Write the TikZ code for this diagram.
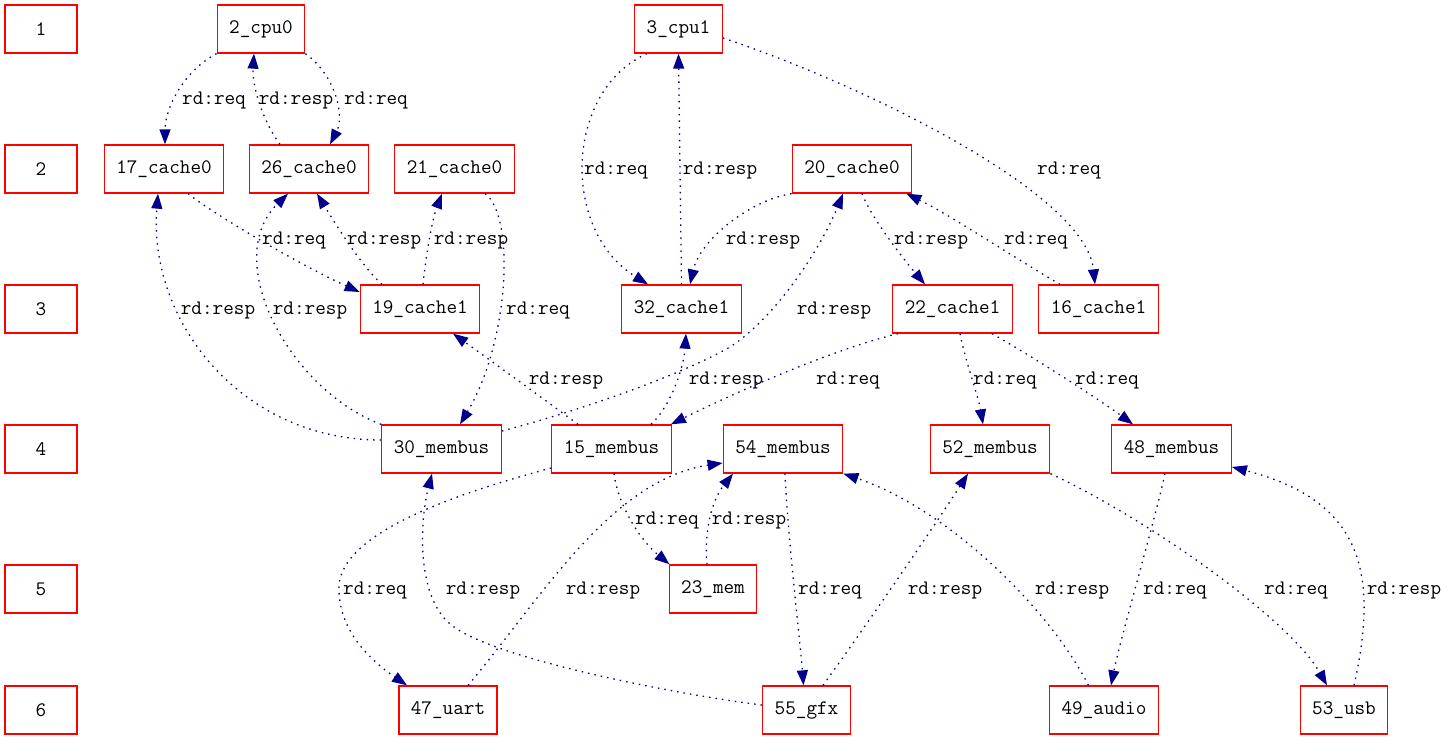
\documentclass[tikz,border=0pt]{standalone}
\usepackage{fontspec}
\usetikzlibrary{arrows.meta,calc}
\definecolor{edgeblue}{RGB}{0,0,139}
\begin{document}
\begin{tikzpicture}[x=1pt,y=-1pt,
  box/.style={draw=red, line width=1.3pt, minimum width=72pt, minimum height=48pt,
    inner xsep=12pt, inner ysep=0pt, font=\ttfamily\fontsize{20.6}{22}\selectfont},
  link/.style={draw=edgeblue, line width=1.3pt, dash pattern=on 1.5pt off 5pt,
    -{Triangle[length=15pt,width=11pt,fill=edgeblue]}},
  lbl/.style={font=\ttfamily\fontsize{20.6}{22}\selectfont, inner sep=0pt, text=black}]
\useasboundingbox (0,0) rectangle (1448,740);

% rank column
\node[box] (n1) at (41,29)  {1};
\node[box] (n2) at (41,169) {2};
\node[box] (n3) at (41,309) {3};
\node[box] (n4) at (41,449) {4};
\node[box] (n5) at (41,589) {5};
\node[box] (n6) at (41,710) {6};

% rank 1
\node[box] (cpu0) at (261,29)   {2\_cpu0};
\node[box] (cpu1) at (678.5,29) {3\_cpu1};
% rank 2
\node[box] (c17) at (164,169)   {17\_cache0};
\node[box] (c26) at (309,169)   {26\_cache0};
\node[box] (c21) at (454.5,169) {21\_cache0};
\node[box] (c20) at (852,169)   {20\_cache0};
% rank 3
\node[box] (c19) at (420,309)    {19\_cache1};
\node[box] (c32) at (681.5,309)  {32\_cache1};
\node[box] (c22) at (952.5,309)  {22\_cache1};
\node[box] (c16) at (1098.5,309) {16\_cache1};
% rank 4
\node[box] (m30) at (441.5,449)  {30\_membus};
\node[box] (m15) at (611.5,449)  {15\_membus};
\node[box] (m54) at (783,449)    {54\_membus};
\node[box] (m52) at (990,449)    {52\_membus};
\node[box] (m48) at (1171.5,449) {48\_membus};
% rank 5
\node[box] (mem) at (713,589) {23\_mem};
% rank 6
\node[box] (uart)  at (448,710)   {47\_uart};
\node[box] (gfx)   at (806.5,710) {55\_gfx};
\node[box] (audio) at (1104,710)  {49\_audio};
\node[box] (usb)   at (1344,710)  {53\_usb};

% read requests and responses
\draw[link] (cpu0.south west) .. controls (182,72) and (165,110) .. ($(c17.north)+(1,0)$);
\node[lbl] (l1) at (214,100) {rd:req};
\draw[link] ($(c26.north)+(-29,0)$) .. controls (262,120) and (252,85) .. ($(cpu0.south)+(-7,0)$);
\node[lbl] (l2) at (296,100) {rd:resp};
\draw[link] (cpu0.south east) .. controls (335,75) and (345,115) .. ($(c26.north)+(21,0)$);
\node[lbl] (l3) at (376,100) {rd:req};

\draw[link] ($(cpu1.south)+(-31.5,0)$) .. controls (565,90) and (560,230) .. ($(c32.north)+(-33.5,0)$);
\node[lbl] (l4) at (616,170) {rd:req};
\draw[link] (c32.north) -- (cpu1.south);
\node[lbl] (l5) at (720,170) {rd:resp};
\draw[link] ($(cpu1.east)+(0,9)$) .. controls (850,80) and (1085,190) .. ($(c16.north)+(-3.5,0)$);
\node[lbl] (l6) at (1069,170) {rd:req};

\draw[link] (c20.south west) .. controls (750,200) and (700,240) .. ($(c32.north)+(8.5,0)$);
\node[lbl] (l7) at (763,240) {rd:resp};
\draw[link] ($(m30.east)+(0,-18)$) .. controls (600,405) and (690,370) .. (730,347)
  .. controls (775,318) and (820,250) .. ($(c20.south)+(-9,0)$);
\node[lbl] (l8) at (834,310) {rd:resp};
\draw[link] ($(c20.south)+(10,0)$) .. controls (870,215) and (900,255) .. ($(c22.north)+(-27.5,0)$);
\node[lbl] (l9) at (931,240) {rd:resp};
\draw[link] ($(c16.north)+(-38.5,0)$) .. controls (1010,255) and (950,215) .. ($(c20.south east)+(-6,0)$);
\node[lbl] (l10) at (1036,240) {rd:req};

\draw[link] ($(c17.south)+(24,0)$) .. controls (215,215) and (300,265) .. ($(c19.west)+(0,-17)$);
\node[lbl] (l11) at (294,240) {rd:req};
\draw[link] ($(c19.north)+(-38,0)$) .. controls (360,265) and (330,215) .. ($(c26.south)+(8,0)$);
\node[lbl] (l12) at (384,240) {rd:resp};
\draw[link] ($(c19.north)+(3,0)$) .. controls (426,255) and (432,220) .. ($(c21.south)+(-12.5,0)$);
\node[lbl] (l13) at (471,240) {rd:resp};

\draw[link] ($(m30.west)+(0,-9)$) .. controls (240,440) and (148,320) .. ($(c17.south)+(-6,0)$);
\node[lbl] (l14) at (218,310) {rd:resp};
\draw[link] (m30.north west) .. controls (290,390) and (220,260) .. ($(c26.south)+(-21,0)$);
\node[lbl] (l15) at (310,310) {rd:resp};
\draw[link] ($(c21.south)+(30.5,0)$) .. controls (515,215) and (510,340) .. ($(m30.north)+(18.5,0)$);
\node[lbl] (l16) at (538,310) {rd:req};

\draw[link] ($(m15.north)+(-33.5,0)$) .. controls (545,400) and (490,360) .. ($(c19.south)+(33,0)$);
\node[lbl] (l17) at (566,380) {rd:resp};
\draw[link] ($(m15.north)+(39.5,0)$) .. controls (672,405) and (684,365) .. ($(c32.south)+(4.5,0)$);
\node[lbl] (l18) at (726,380) {rd:resp};
\draw[link] ($(c22.south)+(-54.5,0)$) .. controls (830,350) and (730,395) .. ($(m15.north east)+(-1,0)$);
\node[lbl] (l19) at (848,380) {rd:req};
\draw[link] ($(c22.south)+(7.5,0)$) .. controls (965,360) and (978,395) .. ($(m52.north)+(-7,0)$);
\node[lbl] (l20) at (1005,380) {rd:req};
\draw[link] ($(c22.south)+(39.5,0)$) .. controls (1030,355) and (1100,400) .. ($(m48.north)+(-38.5,0)$);
\node[lbl] (l21) at (1107,380) {rd:req};

\draw[link] ($(m15.west)+(0,19)$) .. controls (470,490) and (340,530) .. (339,587)
  .. controls (338,630) and (370,660) .. ($(uart.north)+(-41,0)$);
\node[lbl] (l22) at (375,590) {rd:req};
\draw[link] ($(gfx.west)+(0,-5)$) .. controls (680,695) and (500,660) .. (454,627)
  .. controls (415,600) and (420,520) .. ($(m30.south)+(-9.5,0)$);
\node[lbl] (l23) at (483,590) {rd:resp};
\draw[link] ($(uart.north)+(20,0)$) .. controls (540,600) and (610,480) .. ($(m54.west)+(0,14)$);
\node[lbl] (l24) at (603,590) {rd:resp};
\draw[link] ($(m15.south)+(2.5,0)$) .. controls (618,505) and (640,540) .. ($(mem.north west)+(1,0)$);
\node[lbl] (l25) at (667,520) {rd:req};
\draw[link] ($(mem.north)+(-6,0)$) .. controls (704,530) and (712,500) .. ($(m54.south)+(-50,0)$);
\node[lbl] (l26) at (749,520) {rd:resp};
\draw[link] ($(m54.south)+(2,0)$) .. controls (788,540) and (800,640) .. ($(gfx.north)+(-3,0)$);
\node[lbl] (l27) at (830,590) {rd:req};
\draw[link] ($(gfx.north)+(16.5,0)$) .. controls (870,620) and (935,525) .. ($(m52.south)+(-22,0)$);
\node[lbl] (l28) at (945,590) {rd:resp};
\draw[link] ($(audio.north)+(-15.5,0)$) .. controls (1050,610) and (950,510) .. (m54.south east);
\node[lbl] (l29) at (1072,590) {rd:resp};
\draw[link] ($(m48.south)+(-6.5,0)$) .. controls (1155,520) and (1120,640) .. ($(audio.north)+(7,0)$);
\node[lbl] (l30) at (1175,590) {rd:req};
\draw[link] (m52.south east) .. controls (1150,520) and (1290,620) .. ($(usb.north)+(-17,0)$);
\node[lbl] (l31) at (1296,590) {rd:req};
\draw[link] ($(usb.north)+(10,0)$) .. controls (1380,570) and (1360,500) .. ($(m48.east)+(0,18)$);
\node[lbl] (l32) at (1404,590) {rd:resp};
\end{tikzpicture}
\end{document}
